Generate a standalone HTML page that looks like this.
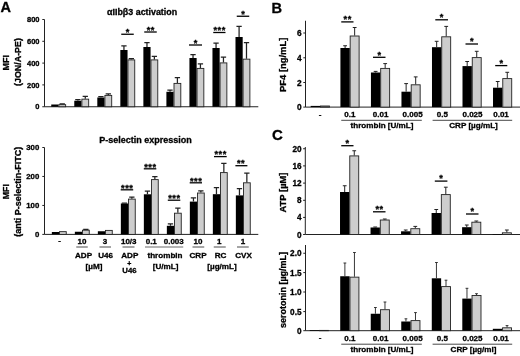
<!DOCTYPE html>
<html><head><meta charset="utf-8"><title>Figure</title>
<style>
html,body{margin:0;padding:0;background:#fff;}
body{width:520px;height:356px;overflow:hidden;}
svg{display:block;will-change:transform;}
svg text{font-family:"Liberation Sans", Arial, sans-serif;font-weight:bold;fill:#000;stroke:#000;stroke-width:0.3px;}
</style></head><body>
<svg width="520" height="356" viewBox="0 0 520 356">
<rect width="520" height="356" fill="#fff"/>
<text x="0.60" y="12.20" font-size="14.5" text-anchor="start" >A</text>
<text x="271.40" y="13.00" font-size="14.6" text-anchor="start" >B</text>
<text x="272.00" y="140.00" font-size="15" text-anchor="start" >C</text>
<path d="M44.50 19.50V106.75H258.30" stroke="#222" stroke-width="1" fill="none"/>
<line x1="42.30" y1="19.50" x2="44.50" y2="19.50" stroke="#222" stroke-width="1"/>
<text x="39.50" y="22.20" font-size="7.5" text-anchor="end" >800</text>
<line x1="42.30" y1="41.30" x2="44.50" y2="41.30" stroke="#222" stroke-width="1"/>
<text x="39.50" y="44.00" font-size="7.5" text-anchor="end" >600</text>
<line x1="42.30" y1="63.10" x2="44.50" y2="63.10" stroke="#222" stroke-width="1"/>
<text x="39.50" y="65.80" font-size="7.5" text-anchor="end" >400</text>
<line x1="42.30" y1="84.90" x2="44.50" y2="84.90" stroke="#222" stroke-width="1"/>
<text x="39.50" y="87.60" font-size="7.5" text-anchor="end" >200</text>
<line x1="42.30" y1="106.75" x2="44.50" y2="106.75" stroke="#222" stroke-width="1"/>
<text x="39.50" y="109.45" font-size="7.5" text-anchor="end" >0</text>
<text x="142.10" y="15.40" font-size="8.9" text-anchor="middle" >αIIbβ3 activation</text>
<text transform="translate(9.00 62.80) rotate(-90)" font-size="9.0" text-anchor="middle">MFI</text>
<text transform="translate(21.00 62.00) rotate(-90)" font-size="8.9" text-anchor="middle">(JON/A-PE)</text>
<rect x="51.25" y="104.50" width="7.20" height="2.25" fill="#000"/>
<rect x="58.85" y="104.65" width="6.80" height="2.10" fill="#cdcdcd" stroke="#222" stroke-width="0.9"/>
<path d="M62.25 104.25V103.90M59.60 103.90H64.90" stroke="#222" stroke-width="1.25" fill="none"/>
<rect x="74.28" y="100.75" width="7.20" height="6.00" fill="#000"/>
<path d="M77.88 100.75V99.60M75.23 99.60H80.53" stroke="#222" stroke-width="1.25" fill="none"/>
<rect x="81.88" y="99.15" width="6.80" height="7.60" fill="#cdcdcd" stroke="#222" stroke-width="0.9"/>
<path d="M85.28 98.75V96.25M82.63 96.25H87.93" stroke="#222" stroke-width="1.25" fill="none"/>
<rect x="97.31" y="97.50" width="7.20" height="9.25" fill="#000"/>
<path d="M100.91 97.50V96.60M98.26 96.60H103.56" stroke="#222" stroke-width="1.25" fill="none"/>
<rect x="104.91" y="95.40" width="6.80" height="11.35" fill="#cdcdcd" stroke="#222" stroke-width="0.9"/>
<path d="M108.31 95.00V93.75M105.66 93.75H110.96" stroke="#222" stroke-width="1.25" fill="none"/>
<rect x="120.34" y="50.00" width="7.20" height="56.75" fill="#000"/>
<path d="M123.94 50.00V45.75M121.29 45.75H126.59" stroke="#222" stroke-width="1.25" fill="none"/>
<rect x="127.94" y="59.90" width="6.80" height="46.85" fill="#cdcdcd" stroke="#222" stroke-width="0.9"/>
<path d="M131.34 59.50V58.60M128.69 58.60H133.99" stroke="#222" stroke-width="1.25" fill="none"/>
<rect x="143.37" y="47.00" width="7.20" height="59.75" fill="#000"/>
<path d="M146.97 47.00V42.50M144.32 42.50H149.62" stroke="#222" stroke-width="1.25" fill="none"/>
<rect x="150.97" y="59.90" width="6.80" height="46.85" fill="#cdcdcd" stroke="#222" stroke-width="0.9"/>
<path d="M154.37 59.50V56.25M151.72 56.25H157.02" stroke="#222" stroke-width="1.25" fill="none"/>
<rect x="166.40" y="91.80" width="7.20" height="14.95" fill="#000"/>
<path d="M170.00 91.80V90.00M167.35 90.00H172.65" stroke="#222" stroke-width="1.25" fill="none"/>
<rect x="174.00" y="83.40" width="6.80" height="23.35" fill="#cdcdcd" stroke="#222" stroke-width="0.9"/>
<path d="M177.40 83.00V77.50M174.75 77.50H180.05" stroke="#222" stroke-width="1.25" fill="none"/>
<rect x="189.43" y="58.00" width="7.20" height="48.75" fill="#000"/>
<path d="M193.03 58.00V54.50M190.38 54.50H195.68" stroke="#222" stroke-width="1.25" fill="none"/>
<rect x="197.03" y="68.40" width="6.80" height="38.35" fill="#cdcdcd" stroke="#222" stroke-width="0.9"/>
<path d="M200.43 68.00V63.75M197.78 63.75H203.08" stroke="#222" stroke-width="1.25" fill="none"/>
<rect x="212.46" y="48.00" width="7.20" height="58.75" fill="#000"/>
<path d="M216.06 48.00V43.00M213.41 43.00H218.71" stroke="#222" stroke-width="1.25" fill="none"/>
<rect x="220.06" y="62.90" width="6.80" height="43.85" fill="#cdcdcd" stroke="#222" stroke-width="0.9"/>
<path d="M223.46 62.50V57.00M220.81 57.00H226.11" stroke="#222" stroke-width="1.25" fill="none"/>
<rect x="235.49" y="37.00" width="7.20" height="69.75" fill="#000"/>
<path d="M239.09 37.00V26.25M236.44 26.25H241.74" stroke="#222" stroke-width="1.25" fill="none"/>
<rect x="243.09" y="59.15" width="6.80" height="47.60" fill="#cdcdcd" stroke="#222" stroke-width="0.9"/>
<path d="M246.49 58.75V42.50M243.84 42.50H249.14" stroke="#222" stroke-width="1.25" fill="none"/>
<line x1="121.25" y1="34.25" x2="133.75" y2="34.25" stroke="#000" stroke-width="1.3"/>
<text x="127.78" y="34.95" font-size="9.2" text-anchor="middle" letter-spacing="0.55" stroke-width="0.2">*</text>
<line x1="144.25" y1="32.00" x2="156.75" y2="32.00" stroke="#000" stroke-width="1.3"/>
<text x="150.78" y="32.70" font-size="9.2" text-anchor="middle" letter-spacing="0.55" stroke-width="0.2">**</text>
<line x1="189.00" y1="45.00" x2="202.00" y2="45.00" stroke="#000" stroke-width="1.3"/>
<text x="195.78" y="45.70" font-size="9.2" text-anchor="middle" letter-spacing="0.55" stroke-width="0.2">*</text>
<line x1="213.25" y1="32.50" x2="225.50" y2="32.50" stroke="#000" stroke-width="1.3"/>
<text x="219.65" y="33.20" font-size="9.2" text-anchor="middle" letter-spacing="0.55" stroke-width="0.2">***</text>
<line x1="236.75" y1="16.25" x2="249.25" y2="16.25" stroke="#000" stroke-width="1.3"/>
<text x="243.28" y="16.95" font-size="9.2" text-anchor="middle" letter-spacing="0.55" stroke-width="0.2">*</text>
<path d="M44.50 147.50V234.40H258.30" stroke="#222" stroke-width="1" fill="none"/>
<line x1="42.30" y1="147.50" x2="44.50" y2="147.50" stroke="#222" stroke-width="1"/>
<text x="39.30" y="150.30" font-size="7.8" text-anchor="end" >300</text>
<line x1="42.30" y1="176.45" x2="44.50" y2="176.45" stroke="#222" stroke-width="1"/>
<text x="39.30" y="179.25" font-size="7.8" text-anchor="end" >200</text>
<line x1="42.30" y1="205.45" x2="44.50" y2="205.45" stroke="#222" stroke-width="1"/>
<text x="39.30" y="208.25" font-size="7.8" text-anchor="end" >100</text>
<line x1="42.30" y1="234.40" x2="44.50" y2="234.40" stroke="#222" stroke-width="1"/>
<text x="39.30" y="237.20" font-size="7.8" text-anchor="end" >0</text>
<text x="145.50" y="143.10" font-size="9.0" text-anchor="middle" >P-selectin expression</text>
<text transform="translate(8.80 191.70) rotate(-90)" font-size="8.8" text-anchor="middle">MFI</text>
<text transform="translate(21.00 191.70) rotate(-90)" font-size="9.0" text-anchor="middle">(anti P-selectin-FITC)</text>
<rect x="51.85" y="232.00" width="7.20" height="2.40" fill="#000"/>
<rect x="59.45" y="231.65" width="6.80" height="2.75" fill="#cdcdcd" stroke="#222" stroke-width="0.9"/>
<rect x="74.85" y="231.75" width="7.20" height="2.65" fill="#000"/>
<rect x="82.45" y="230.20" width="6.80" height="4.20" fill="#cdcdcd" stroke="#222" stroke-width="0.9"/>
<path d="M85.85 229.80V229.30M83.20 229.30H88.50" stroke="#222" stroke-width="1.25" fill="none"/>
<rect x="97.85" y="231.25" width="7.20" height="3.15" fill="#000"/>
<rect x="105.45" y="230.40" width="6.80" height="4.00" fill="#cdcdcd" stroke="#222" stroke-width="0.9"/>
<rect x="120.85" y="203.50" width="7.20" height="30.90" fill="#000"/>
<path d="M124.45 203.50V203.00M121.80 203.00H127.10" stroke="#222" stroke-width="1.25" fill="none"/>
<rect x="128.45" y="199.10" width="6.80" height="35.30" fill="#cdcdcd" stroke="#222" stroke-width="0.9"/>
<path d="M131.85 198.70V197.10M129.20 197.10H134.50" stroke="#222" stroke-width="1.25" fill="none"/>
<rect x="143.85" y="194.30" width="7.20" height="40.10" fill="#000"/>
<path d="M147.45 194.30V191.00M144.80 191.00H150.10" stroke="#222" stroke-width="1.25" fill="none"/>
<rect x="151.45" y="179.60" width="6.80" height="54.80" fill="#cdcdcd" stroke="#222" stroke-width="0.9"/>
<path d="M154.85 179.20V176.70M152.20 176.70H157.50" stroke="#222" stroke-width="1.25" fill="none"/>
<rect x="166.85" y="225.80" width="7.20" height="8.60" fill="#000"/>
<path d="M170.45 225.80V223.80M167.80 223.80H173.10" stroke="#222" stroke-width="1.25" fill="none"/>
<rect x="174.45" y="213.20" width="6.80" height="21.20" fill="#cdcdcd" stroke="#222" stroke-width="0.9"/>
<path d="M177.85 212.80V208.10M175.20 208.10H180.50" stroke="#222" stroke-width="1.25" fill="none"/>
<rect x="189.85" y="201.60" width="7.20" height="32.80" fill="#000"/>
<path d="M193.45 201.60V197.90M190.80 197.90H196.10" stroke="#222" stroke-width="1.25" fill="none"/>
<rect x="197.45" y="193.00" width="6.80" height="41.40" fill="#cdcdcd" stroke="#222" stroke-width="0.9"/>
<path d="M200.85 192.60V190.80M198.20 190.80H203.50" stroke="#222" stroke-width="1.25" fill="none"/>
<rect x="212.85" y="194.20" width="7.20" height="40.20" fill="#000"/>
<path d="M216.45 194.20V187.70M213.80 187.70H219.10" stroke="#222" stroke-width="1.25" fill="none"/>
<rect x="220.45" y="172.60" width="6.80" height="61.80" fill="#cdcdcd" stroke="#222" stroke-width="0.9"/>
<path d="M223.85 172.20V163.30M221.20 163.30H226.50" stroke="#222" stroke-width="1.25" fill="none"/>
<rect x="235.85" y="195.40" width="7.20" height="39.00" fill="#000"/>
<path d="M239.45 195.40V188.60M236.80 188.60H242.10" stroke="#222" stroke-width="1.25" fill="none"/>
<rect x="243.45" y="182.80" width="6.80" height="51.60" fill="#cdcdcd" stroke="#222" stroke-width="0.9"/>
<path d="M246.85 182.40V173.20M244.20 173.20H249.50" stroke="#222" stroke-width="1.25" fill="none"/>
<line x1="120.70" y1="189.80" x2="133.20" y2="189.80" stroke="#000" stroke-width="1.3"/>
<text x="127.22" y="190.50" font-size="9.2" text-anchor="middle" letter-spacing="0.55" stroke-width="0.2">***</text>
<line x1="143.80" y1="168.80" x2="156.30" y2="168.80" stroke="#000" stroke-width="1.3"/>
<text x="150.33" y="169.50" font-size="9.2" text-anchor="middle" letter-spacing="0.55" stroke-width="0.2">***</text>
<line x1="167.80" y1="200.20" x2="180.30" y2="200.20" stroke="#000" stroke-width="1.3"/>
<text x="174.33" y="200.90" font-size="9.2" text-anchor="middle" letter-spacing="0.55" stroke-width="0.2">***</text>
<line x1="189.70" y1="182.80" x2="202.00" y2="182.80" stroke="#000" stroke-width="1.3"/>
<text x="196.12" y="183.50" font-size="9.2" text-anchor="middle" letter-spacing="0.55" stroke-width="0.2">***</text>
<line x1="214.00" y1="156.60" x2="226.70" y2="156.60" stroke="#000" stroke-width="1.3"/>
<text x="220.62" y="157.30" font-size="9.2" text-anchor="middle" letter-spacing="0.55" stroke-width="0.2">***</text>
<line x1="235.40" y1="165.70" x2="247.40" y2="165.70" stroke="#000" stroke-width="1.3"/>
<text x="241.08" y="166.40" font-size="9.2" text-anchor="middle" letter-spacing="0.55" stroke-width="0.2">**</text>
<text x="59.50" y="243.20" font-size="8.0" text-anchor="middle" >-</text>
<text x="82.00" y="244.20" font-size="8.0" text-anchor="middle" >10</text>
<text x="105.00" y="244.20" font-size="8.0" text-anchor="middle" >3</text>
<text x="128.75" y="244.20" font-size="8.0" text-anchor="middle" >10/3</text>
<text x="151.25" y="244.20" font-size="8.0" text-anchor="middle" >0.1</text>
<text x="173.75" y="244.20" font-size="8.0" text-anchor="middle" >0.003</text>
<text x="198.00" y="244.20" font-size="8.0" text-anchor="middle" >10</text>
<text x="219.25" y="244.20" font-size="8.0" text-anchor="middle" >1</text>
<text x="243.00" y="244.20" font-size="8.0" text-anchor="middle" >1</text>
<line x1="76.25" y1="247" x2="87.75" y2="247" stroke="#6a6a6a" stroke-width="1.2"/>
<line x1="99.5" y1="247" x2="111" y2="247" stroke="#6a6a6a" stroke-width="1.2"/>
<line x1="122.5" y1="247" x2="134.5" y2="247" stroke="#6a6a6a" stroke-width="1.2"/>
<line x1="145" y1="247" x2="183.25" y2="247" stroke="#6a6a6a" stroke-width="1.2"/>
<line x1="192.5" y1="247" x2="204.25" y2="247" stroke="#6a6a6a" stroke-width="1.2"/>
<line x1="213.75" y1="247" x2="225.75" y2="247" stroke="#6a6a6a" stroke-width="1.2"/>
<line x1="237" y1="247" x2="248.75" y2="247" stroke="#6a6a6a" stroke-width="1.2"/>
<text x="83.50" y="258.25" font-size="8.1" text-anchor="middle" >ADP</text>
<text x="105.60" y="258.25" font-size="8.1" text-anchor="middle" >U46</text>
<text x="129.75" y="258.25" font-size="8.1" text-anchor="middle" >ADP</text>
<text x="165.00" y="258.25" font-size="8.1" text-anchor="middle" >thrombin</text>
<text x="198.00" y="258.25" font-size="8.1" text-anchor="middle" >CRP</text>
<text x="220.50" y="258.25" font-size="8.1" text-anchor="middle" >RC</text>
<text x="243.60" y="258.25" font-size="8.1" text-anchor="middle" >CVX</text>
<text x="94.00" y="269.25" font-size="8.1" text-anchor="middle" >[µM]</text>
<text x="165.60" y="269.25" font-size="8.1" text-anchor="middle" >[U/mL]</text>
<text x="222.00" y="269.25" font-size="8.1" text-anchor="middle" >[µg/mL]</text>
<text x="129.25" y="265.80" font-size="7" text-anchor="middle" >+</text>
<text x="129.50" y="273.40" font-size="7.8" text-anchor="middle" >U46</text>
<path d="M305.50 20.75V107.10H520.00" stroke="#222" stroke-width="1" fill="none"/>
<line x1="303.30" y1="33.00" x2="305.50" y2="33.00" stroke="#222" stroke-width="1"/>
<text x="301.50" y="36.00" font-size="8.3" text-anchor="end" >6</text>
<line x1="303.30" y1="57.80" x2="305.50" y2="57.80" stroke="#222" stroke-width="1"/>
<text x="301.50" y="60.80" font-size="8.3" text-anchor="end" >4</text>
<line x1="303.30" y1="82.50" x2="305.50" y2="82.50" stroke="#222" stroke-width="1"/>
<text x="301.50" y="85.50" font-size="8.3" text-anchor="end" >2</text>
<line x1="303.30" y1="107.10" x2="305.50" y2="107.10" stroke="#222" stroke-width="1"/>
<text x="301.50" y="110.10" font-size="8.3" text-anchor="end" >0</text>
<text transform="translate(285.90 64.80) rotate(-90)" font-size="9.4" text-anchor="middle">PF4 [ng/mL]</text>
<rect x="310.70" y="105.90" width="9.35" height="1.20" fill="#000"/>
<rect x="320.45" y="106.00" width="8.95" height="1.10" fill="#cdcdcd" stroke="#222" stroke-width="0.9"/>
<rect x="340.42" y="48.00" width="9.35" height="59.10" fill="#000"/>
<path d="M345.10 48.00V45.75M343.20 45.75H347.00" stroke="#222" stroke-width="1.0" fill="none"/>
<rect x="350.17" y="36.00" width="8.95" height="71.10" fill="#cdcdcd" stroke="#222" stroke-width="0.9"/>
<path d="M354.65 35.60V27.50M352.75 27.50H356.55" stroke="#222" stroke-width="1.0" fill="none"/>
<rect x="370.94" y="72.50" width="9.35" height="34.60" fill="#000"/>
<path d="M375.62 72.50V71.40M373.72 71.40H377.52" stroke="#222" stroke-width="1.0" fill="none"/>
<rect x="380.69" y="68.40" width="8.95" height="38.70" fill="#cdcdcd" stroke="#222" stroke-width="0.9"/>
<path d="M385.17 68.00V63.60M383.27 63.60H387.07" stroke="#222" stroke-width="1.0" fill="none"/>
<rect x="401.46" y="91.70" width="9.35" height="15.40" fill="#000"/>
<path d="M406.14 91.70V83.60M404.24 83.60H408.04" stroke="#222" stroke-width="1.0" fill="none"/>
<rect x="411.21" y="84.80" width="8.95" height="22.30" fill="#cdcdcd" stroke="#222" stroke-width="0.9"/>
<path d="M415.69 84.40V76.90M413.79 76.90H417.59" stroke="#222" stroke-width="1.0" fill="none"/>
<rect x="431.98" y="47.20" width="9.35" height="59.90" fill="#000"/>
<path d="M436.66 47.20V41.30M434.76 41.30H438.56" stroke="#222" stroke-width="1.0" fill="none"/>
<rect x="441.73" y="36.80" width="8.95" height="70.30" fill="#cdcdcd" stroke="#222" stroke-width="0.9"/>
<path d="M446.21 36.40V26.40M444.31 26.40H448.11" stroke="#222" stroke-width="1.0" fill="none"/>
<rect x="462.50" y="66.10" width="9.35" height="41.00" fill="#000"/>
<path d="M467.18 66.10V61.50M465.28 61.50H469.07" stroke="#222" stroke-width="1.0" fill="none"/>
<rect x="472.25" y="57.60" width="8.95" height="49.50" fill="#cdcdcd" stroke="#222" stroke-width="0.9"/>
<path d="M476.73 57.20V51.30M474.83 51.30H478.62" stroke="#222" stroke-width="1.0" fill="none"/>
<rect x="493.02" y="87.70" width="9.35" height="19.40" fill="#000"/>
<path d="M497.70 87.70V81.50M495.80 81.50H499.60" stroke="#222" stroke-width="1.0" fill="none"/>
<rect x="502.77" y="78.60" width="8.95" height="28.50" fill="#cdcdcd" stroke="#222" stroke-width="0.9"/>
<path d="M507.25 78.20V72.30M505.35 72.30H509.15" stroke="#222" stroke-width="1.0" fill="none"/>
<line x1="341.25" y1="21.90" x2="353.50" y2="21.90" stroke="#000" stroke-width="1.3"/>
<text x="347.65" y="22.20" font-size="9.2" text-anchor="middle" letter-spacing="0.55" stroke-width="0.2">**</text>
<line x1="373.00" y1="57.30" x2="385.50" y2="57.30" stroke="#000" stroke-width="1.3"/>
<text x="379.52" y="57.60" font-size="9.2" text-anchor="middle" letter-spacing="0.55" stroke-width="0.2">*</text>
<line x1="435.30" y1="19.80" x2="448.00" y2="19.80" stroke="#000" stroke-width="1.3"/>
<text x="441.92" y="20.10" font-size="9.2" text-anchor="middle" letter-spacing="0.55" stroke-width="0.2">*</text>
<line x1="465.50" y1="44.00" x2="478.00" y2="44.00" stroke="#000" stroke-width="1.3"/>
<text x="472.02" y="44.30" font-size="9.2" text-anchor="middle" letter-spacing="0.55" stroke-width="0.2">*</text>
<line x1="495.20" y1="65.60" x2="507.30" y2="65.60" stroke="#000" stroke-width="1.3"/>
<text x="501.52" y="65.90" font-size="9.2" text-anchor="middle" letter-spacing="0.55" stroke-width="0.2">*</text>
<text x="320.00" y="116.50" font-size="8" text-anchor="middle" >-</text>
<text x="349.80" y="117.20" font-size="8" text-anchor="middle" >0.1</text>
<text x="380.60" y="117.20" font-size="8" text-anchor="middle" >0.01</text>
<text x="412.60" y="117.20" font-size="8" text-anchor="middle" >0.005</text>
<text x="442.40" y="117.20" font-size="8" text-anchor="middle" >0.5</text>
<text x="472.50" y="117.20" font-size="8" text-anchor="middle" >0.025</text>
<text x="501.00" y="117.20" font-size="8" text-anchor="middle" >0.01</text>
<line x1="341.25" y1="120.3" x2="421.8" y2="120.3" stroke="#333" stroke-width="0.9"/>
<line x1="432.6" y1="120.3" x2="512.2" y2="120.3" stroke="#333" stroke-width="0.9"/>
<text x="382.00" y="128.20" font-size="8.1" text-anchor="middle" >thrombin [U/mL]</text>
<text x="473.50" y="128.20" font-size="8.1" text-anchor="middle" >CRP [µg/mL]</text>
<path d="M305.30 147.00V234.50H520.00" stroke="#222" stroke-width="1" fill="none"/>
<line x1="303.10" y1="148.75" x2="305.30" y2="148.75" stroke="#222" stroke-width="1"/>
<text x="301.50" y="151.75" font-size="8.2" text-anchor="end" >20</text>
<line x1="303.10" y1="165.90" x2="305.30" y2="165.90" stroke="#222" stroke-width="1"/>
<text x="301.50" y="168.90" font-size="8.2" text-anchor="end" >16</text>
<line x1="303.10" y1="183.10" x2="305.30" y2="183.10" stroke="#222" stroke-width="1"/>
<text x="301.50" y="186.10" font-size="8.2" text-anchor="end" >12</text>
<line x1="303.10" y1="200.30" x2="305.30" y2="200.30" stroke="#222" stroke-width="1"/>
<text x="301.50" y="203.30" font-size="8.2" text-anchor="end" >8</text>
<line x1="303.10" y1="217.40" x2="305.30" y2="217.40" stroke="#222" stroke-width="1"/>
<text x="301.50" y="220.40" font-size="8.2" text-anchor="end" >4</text>
<line x1="303.10" y1="234.50" x2="305.30" y2="234.50" stroke="#222" stroke-width="1"/>
<text x="301.50" y="237.50" font-size="8.2" text-anchor="end" >0</text>
<text transform="translate(285.90 192.50) rotate(-90)" font-size="9.4" text-anchor="middle">ATP [µM]</text>
<rect x="340.02" y="192.00" width="9.35" height="42.50" fill="#000"/>
<path d="M344.69 192.00V185.75M342.80 185.75H346.59" stroke="#222" stroke-width="1.0" fill="none"/>
<rect x="349.77" y="155.90" width="8.95" height="78.60" fill="#cdcdcd" stroke="#222" stroke-width="0.9"/>
<path d="M354.25 155.50V150.75M352.35 150.75H356.14" stroke="#222" stroke-width="1.0" fill="none"/>
<rect x="370.54" y="227.50" width="9.35" height="7.00" fill="#000"/>
<path d="M375.22 227.50V227.00M373.32 227.00H377.12" stroke="#222" stroke-width="1.0" fill="none"/>
<rect x="380.29" y="220.00" width="8.95" height="14.50" fill="#cdcdcd" stroke="#222" stroke-width="0.9"/>
<path d="M384.77 219.60V219.00M382.87 219.00H386.67" stroke="#222" stroke-width="1.0" fill="none"/>
<rect x="401.06" y="231.30" width="9.35" height="3.20" fill="#000"/>
<path d="M405.74 231.30V230.00M403.84 230.00H407.63" stroke="#222" stroke-width="1.0" fill="none"/>
<rect x="410.81" y="228.70" width="8.95" height="5.80" fill="#cdcdcd" stroke="#222" stroke-width="0.9"/>
<path d="M415.29 228.30V226.40M413.39 226.40H417.19" stroke="#222" stroke-width="1.0" fill="none"/>
<rect x="431.58" y="213.00" width="9.35" height="21.50" fill="#000"/>
<path d="M436.25 213.00V209.50M434.36 209.50H438.15" stroke="#222" stroke-width="1.0" fill="none"/>
<rect x="441.33" y="194.60" width="8.95" height="39.90" fill="#cdcdcd" stroke="#222" stroke-width="0.9"/>
<path d="M445.81 194.20V187.20M443.91 187.20H447.70" stroke="#222" stroke-width="1.0" fill="none"/>
<rect x="462.10" y="227.20" width="9.35" height="7.30" fill="#000"/>
<path d="M466.77 227.20V225.00M464.88 225.00H468.67" stroke="#222" stroke-width="1.0" fill="none"/>
<rect x="471.85" y="222.20" width="8.95" height="12.30" fill="#cdcdcd" stroke="#222" stroke-width="0.9"/>
<path d="M476.32 221.80V221.00M474.43 221.00H478.22" stroke="#222" stroke-width="1.0" fill="none"/>
<rect x="492.62" y="234.00" width="9.35" height="0.50" fill="#000"/>
<rect x="502.37" y="232.80" width="8.95" height="1.70" fill="#cdcdcd" stroke="#222" stroke-width="0.9"/>
<path d="M506.85 232.40V230.00M504.95 230.00H508.75" stroke="#222" stroke-width="1.0" fill="none"/>
<line x1="341.25" y1="145.70" x2="353.50" y2="145.70" stroke="#000" stroke-width="1.3"/>
<text x="347.65" y="146.00" font-size="9.2" text-anchor="middle" letter-spacing="0.55" stroke-width="0.2">*</text>
<line x1="373.00" y1="211.80" x2="385.50" y2="211.80" stroke="#000" stroke-width="1.3"/>
<text x="379.52" y="212.10" font-size="9.2" text-anchor="middle" letter-spacing="0.55" stroke-width="0.2">**</text>
<line x1="434.80" y1="181.10" x2="447.40" y2="181.10" stroke="#000" stroke-width="1.3"/>
<text x="441.38" y="181.40" font-size="9.2" text-anchor="middle" letter-spacing="0.55" stroke-width="0.2">*</text>
<line x1="466.00" y1="214.00" x2="478.50" y2="214.00" stroke="#000" stroke-width="1.3"/>
<text x="472.52" y="214.30" font-size="9.2" text-anchor="middle" letter-spacing="0.55" stroke-width="0.2">*</text>
<path d="M305.50 245.00V330.70H520.00" stroke="#222" stroke-width="1" fill="none"/>
<line x1="303.30" y1="253.25" x2="305.50" y2="253.25" stroke="#222" stroke-width="1"/>
<text x="301.50" y="256.25" font-size="8.2" text-anchor="end" >2.0</text>
<line x1="303.30" y1="272.60" x2="305.50" y2="272.60" stroke="#222" stroke-width="1"/>
<text x="301.50" y="275.60" font-size="8.2" text-anchor="end" >1.5</text>
<line x1="303.30" y1="292.00" x2="305.50" y2="292.00" stroke="#222" stroke-width="1"/>
<text x="301.50" y="295.00" font-size="8.2" text-anchor="end" >1.0</text>
<line x1="303.30" y1="311.60" x2="305.50" y2="311.60" stroke="#222" stroke-width="1"/>
<text x="301.50" y="314.60" font-size="8.2" text-anchor="end" >0.5</text>
<line x1="303.30" y1="330.70" x2="305.50" y2="330.70" stroke="#222" stroke-width="1"/>
<text x="301.50" y="333.70" font-size="8.2" text-anchor="end" >0</text>
<text transform="translate(285.90 290.00) rotate(-90)" font-size="9.0" text-anchor="middle">serotonin [µg/mL]</text>
<rect x="309.70" y="330.00" width="9.35" height="0.70" fill="#000"/>
<rect x="319.45" y="330.40" width="8.95" height="0.30" fill="#cdcdcd" stroke="#222" stroke-width="0.9"/>
<rect x="340.22" y="276.25" width="9.35" height="54.45" fill="#000"/>
<path d="M344.89 276.25V263.00M343.50 263.00H346.29" stroke="#222" stroke-width="0.9" fill="none"/>
<rect x="349.97" y="277.15" width="8.95" height="53.55" fill="#cdcdcd" stroke="#222" stroke-width="0.9"/>
<path d="M354.44 276.75V252.50M353.05 252.50H355.84" stroke="#222" stroke-width="0.9" fill="none"/>
<rect x="370.74" y="313.75" width="9.35" height="16.95" fill="#000"/>
<path d="M375.42 313.75V307.50M374.02 307.50H376.81" stroke="#222" stroke-width="0.9" fill="none"/>
<rect x="380.49" y="309.70" width="8.95" height="21.00" fill="#cdcdcd" stroke="#222" stroke-width="0.9"/>
<path d="M384.97 309.30V302.00M383.57 302.00H386.37" stroke="#222" stroke-width="0.9" fill="none"/>
<rect x="401.26" y="321.50" width="9.35" height="9.20" fill="#000"/>
<path d="M405.94 321.50V318.80M404.54 318.80H407.33" stroke="#222" stroke-width="0.9" fill="none"/>
<rect x="411.01" y="320.60" width="8.95" height="10.10" fill="#cdcdcd" stroke="#222" stroke-width="0.9"/>
<path d="M415.49 320.20V312.60M414.09 312.60H416.88" stroke="#222" stroke-width="0.9" fill="none"/>
<rect x="431.78" y="278.30" width="9.35" height="52.40" fill="#000"/>
<path d="M436.45 278.30V262.50M435.06 262.50H437.85" stroke="#222" stroke-width="0.9" fill="none"/>
<rect x="441.53" y="286.60" width="8.95" height="44.10" fill="#cdcdcd" stroke="#222" stroke-width="0.9"/>
<path d="M446.00 286.20V280.20M444.61 280.20H447.40" stroke="#222" stroke-width="0.9" fill="none"/>
<rect x="462.30" y="298.60" width="9.35" height="32.10" fill="#000"/>
<path d="M466.97 298.60V288.30M465.57 288.30H468.37" stroke="#222" stroke-width="0.9" fill="none"/>
<rect x="472.05" y="295.50" width="8.95" height="35.20" fill="#cdcdcd" stroke="#222" stroke-width="0.9"/>
<path d="M476.52 295.10V293.70M475.12 293.70H477.92" stroke="#222" stroke-width="0.9" fill="none"/>
<rect x="492.82" y="328.80" width="9.35" height="1.90" fill="#000"/>
<rect x="502.57" y="327.80" width="8.95" height="2.90" fill="#cdcdcd" stroke="#222" stroke-width="0.9"/>
<path d="M507.05 327.40V325.60M505.65 325.60H508.44" stroke="#222" stroke-width="0.9" fill="none"/>
<text x="320.00" y="340.40" font-size="8" text-anchor="middle" >-</text>
<text x="349.80" y="341.10" font-size="8" text-anchor="middle" >0.1</text>
<text x="380.60" y="341.10" font-size="8" text-anchor="middle" >0.01</text>
<text x="412.60" y="341.10" font-size="8" text-anchor="middle" >0.005</text>
<text x="442.40" y="341.10" font-size="8" text-anchor="middle" >0.5</text>
<text x="472.50" y="341.10" font-size="8" text-anchor="middle" >0.025</text>
<text x="501.00" y="341.10" font-size="8" text-anchor="middle" >0.01</text>
<line x1="341.25" y1="344.2" x2="421.8" y2="344.2" stroke="#333" stroke-width="0.9"/>
<line x1="432.6" y1="344.2" x2="512.2" y2="344.2" stroke="#333" stroke-width="0.9"/>
<text x="382.00" y="352.30" font-size="8.1" text-anchor="middle" >thrombin [U/mL]</text>
<text x="473.50" y="352.30" font-size="8.1" text-anchor="middle" >CRP [µg/ml]</text>
</svg>
</body></html>
